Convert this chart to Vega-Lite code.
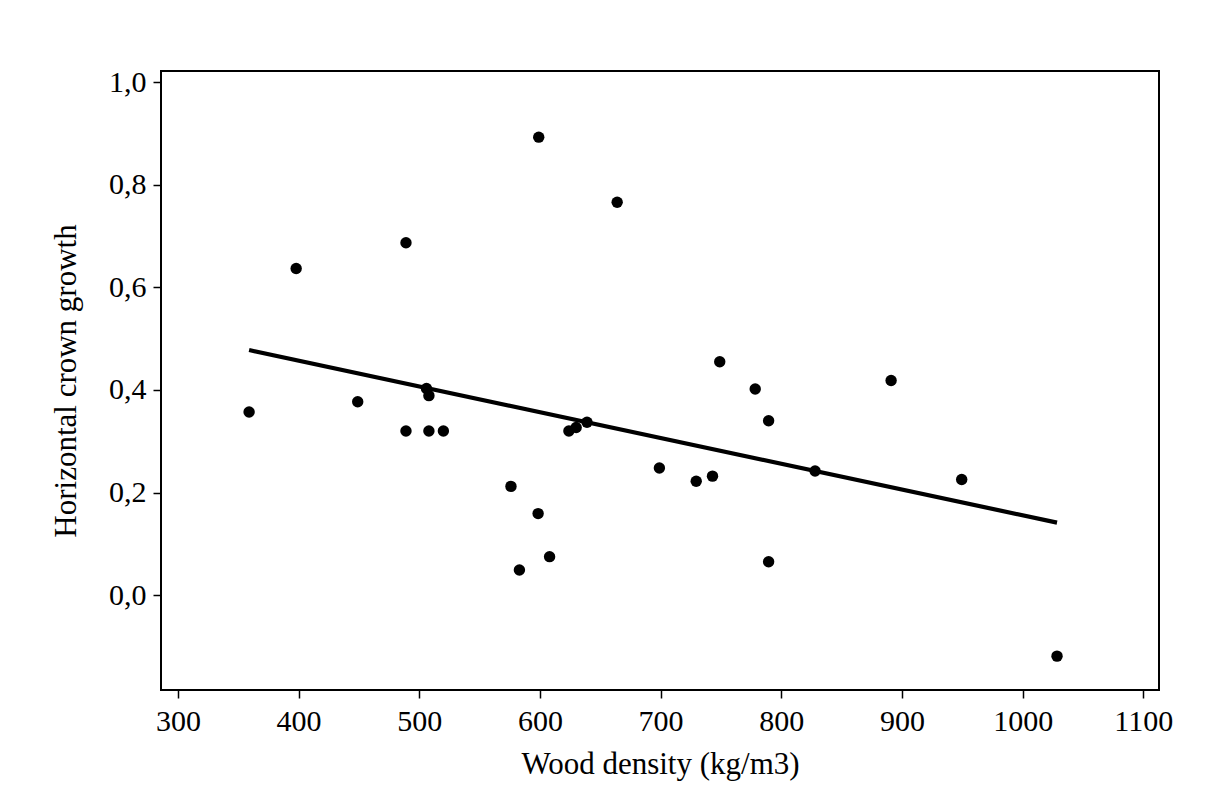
{
  "$schema": "https://vega.github.io/schema/vega-lite/v6.json",
  "width": 998,
  "height": 619,
  "autosize": {"type": "none"},
  "padding": {"left": 161, "top": 71, "right": 53, "bottom": 119},
  "background": "white",
  "config": {
    "font": "Liberation Serif",
    "view": {"stroke": "black", "strokeWidth": 2},
    "axis": {
      "grid": false,
      "domain": false,
      "tickSize": 8,
      "tickWidth": 1.5,
      "tickColor": "black",
      "labelColor": "black",
      "labelFontSize": 30,
      "labelFont": "Liberation Serif",
      "titleFont": "Liberation Serif",
      "titleFontSize": 31,
      "titleFontWeight": "normal",
      "titleColor": "black",
      "labelFlush": false,
      "labelOverlap": false
    }
  },
  "data": {
    "values": [
      {"density": 359, "growth": 0.357},
      {"density": 398, "growth": 0.637},
      {"density": 449, "growth": 0.377},
      {"density": 489, "growth": 0.687},
      {"density": 489, "growth": 0.320},
      {"density": 506, "growth": 0.403},
      {"density": 508, "growth": 0.389},
      {"density": 508, "growth": 0.320},
      {"density": 520, "growth": 0.320},
      {"density": 576, "growth": 0.212},
      {"density": 583, "growth": 0.049},
      {"density": 599, "growth": 0.893},
      {"density": 598.5, "growth": 0.159},
      {"density": 608, "growth": 0.075},
      {"density": 624, "growth": 0.320},
      {"density": 630, "growth": 0.327},
      {"density": 639, "growth": 0.337},
      {"density": 664, "growth": 0.766},
      {"density": 699, "growth": 0.248},
      {"density": 729.5, "growth": 0.222},
      {"density": 743, "growth": 0.232},
      {"density": 749, "growth": 0.455},
      {"density": 778.4, "growth": 0.402},
      {"density": 789.5, "growth": 0.340},
      {"density": 789.5, "growth": 0.065},
      {"density": 828, "growth": 0.242},
      {"density": 891, "growth": 0.4185},
      {"density": 949.5, "growth": 0.2255},
      {"density": 1028.5, "growth": -0.119}
    ]
  },
  "encoding": {
    "x": {
      "field": "density",
      "type": "quantitative",
      "scale": {"domain": [286, 1113], "nice": false, "zero": false},
      "axis": {
        "title": "Wood density (kg/m3)",
        "values": [300, 400, 500, 600, 700, 800, 900, 1000, 1100],
        "format": "d",
        "labelBaseline": "alphabetic",
        "labelPadding": 32,
        "titleX": 499,
        "titleY": 83,
        "titleBaseline": "alphabetic",
        "titleAlign": "center"
      }
    },
    "y": {
      "field": "growth",
      "type": "quantitative",
      "scale": {"domain": [-0.185, 1.022], "nice": false, "zero": false},
      "axis": {
        "title": "Horizontal crown growth",
        "values": [0, 0.2, 0.4, 0.6, 0.8, 1.0],
        "labelExpr": "replace(format(datum.value, '.1f'), '.', ',')",
        "labelPadding": 7,
        "titleX": -86,
        "titleY": 309.5,
        "titleAngle": 270,
        "titleBaseline": "alphabetic",
        "titleAlign": "center"
      }
    }
  },
  "layer": [
    {
      "mark": {"type": "point", "filled": true, "color": "black", "size": 130, "opacity": 1}
    },
    {
      "transform": [{"regression": "growth", "on": "density"}],
      "mark": {"type": "line", "color": "black", "strokeWidth": 4.2}
    }
  ]
}
